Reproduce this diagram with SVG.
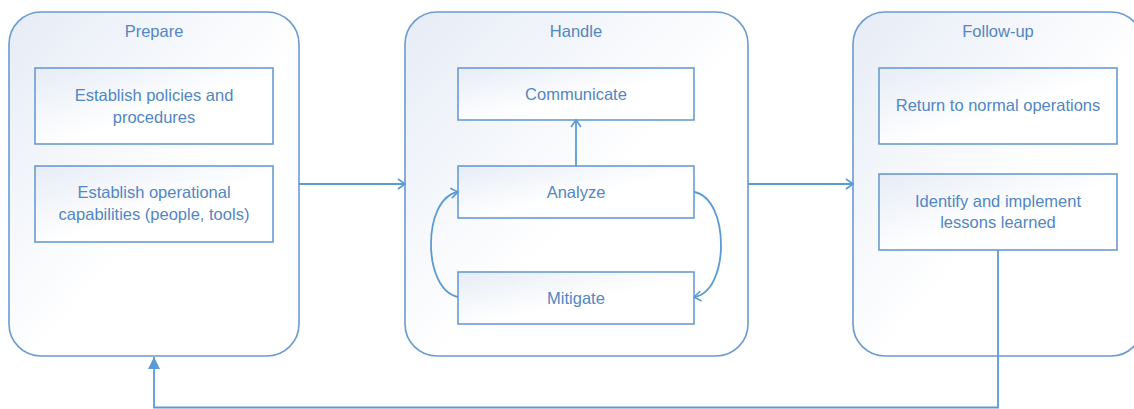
<svg xmlns="http://www.w3.org/2000/svg" width="1134" height="409" viewBox="0 0 1134 409">
<defs>
<linearGradient id="g" x1="0" y1="0" x2="1" y2="1">
<stop offset="0" stop-color="#E6ECF6"/>
<stop offset="0.55" stop-color="#FFFFFF"/>
<stop offset="1" stop-color="#FFFFFF"/>
</linearGradient>
<marker id="open" markerWidth="12" markerHeight="12" refX="10" refY="6" orient="auto" markerUnits="userSpaceOnUse">
<path d="M3,1 L10,6 L3,11" fill="none" stroke="#5B9BD5" stroke-width="1.6"/>
</marker>
<marker id="tri" markerWidth="14" markerHeight="14" refX="12" refY="7" orient="auto" markerUnits="userSpaceOnUse">
<path d="M0,1 L12,7 L0,13 Z" fill="#5B9BD5"/>
</marker>
</defs>
<style>
.cont{fill:url(#g);stroke:#6A9BD1;stroke-width:1.6}
.box{fill:url(#g);stroke:#6A9BD1;stroke-width:1.6}
text{font-family:"Liberation Sans",Arial,sans-serif;font-size:16.5px;fill:#5286C4;text-anchor:middle}
.c{fill:none;stroke:#5B9BD5;stroke-width:1.8}
</style>
<g id="prepare">
<rect class="cont" x="9" y="12" width="290" height="344" rx="32"/>
<text x="154" y="37">Prepare</text>
</g>
<g id="policies">
<rect class="box" x="35" y="68" width="238" height="76"/>
<text x="154" y="101">Establish policies and</text>
<text x="154" y="123">procedures</text>
</g>
<g id="capabilities">
<rect class="box" x="35" y="166" width="238" height="76"/>
<text x="154" y="198">Establish operational</text>
<text x="154" y="220">capabilities (people, tools)</text>
</g>
<g id="handle">
<rect class="cont" x="405" y="12" width="343" height="344" rx="32"/>
<text x="576" y="37">Handle</text>
</g>
<g id="communicate">
<rect class="box" x="458" y="68" width="236" height="52"/>
<text x="576" y="100">Communicate</text>
</g>
<g id="analyze">
<rect class="box" x="458" y="166" width="236" height="52"/>
<text x="576" y="198">Analyze</text>
</g>
<g id="mitigate">
<rect class="box" x="458" y="272" width="236" height="52"/>
<text x="576" y="304">Mitigate</text>
</g>
<g id="followup">
<rect class="cont" x="853" y="12" width="290" height="344" rx="32"/>
<text x="998" y="37">Follow-up</text>
</g>
<g id="return">
<rect class="box" x="879" y="68" width="238" height="76"/>
<text x="998" y="111">Return to normal operations</text>
</g>
<g id="lessons">
<rect class="box" x="879" y="174" width="238" height="76"/>
<text x="998" y="207">Identify and implement</text>
<text x="998" y="228">lessons learned</text>
</g>
<g id="connectors">
<path class="c" d="M299,184 H405" marker-end="url(#open)"/>
<path class="c" d="M748,184 H853" marker-end="url(#open)"/>
<path class="c" d="M576,166 V120" marker-end="url(#open)"/>
<path class="c" d="M694,192 C730,198 730,292 694,297" marker-end="url(#open)"/>
<path class="c" d="M458,297 C422,290 422,198 458,192" marker-end="url(#open)"/>
<path class="c" d="M998,250 V407.5 H154 V357" marker-end="url(#tri)"/>
</g>
</svg>
